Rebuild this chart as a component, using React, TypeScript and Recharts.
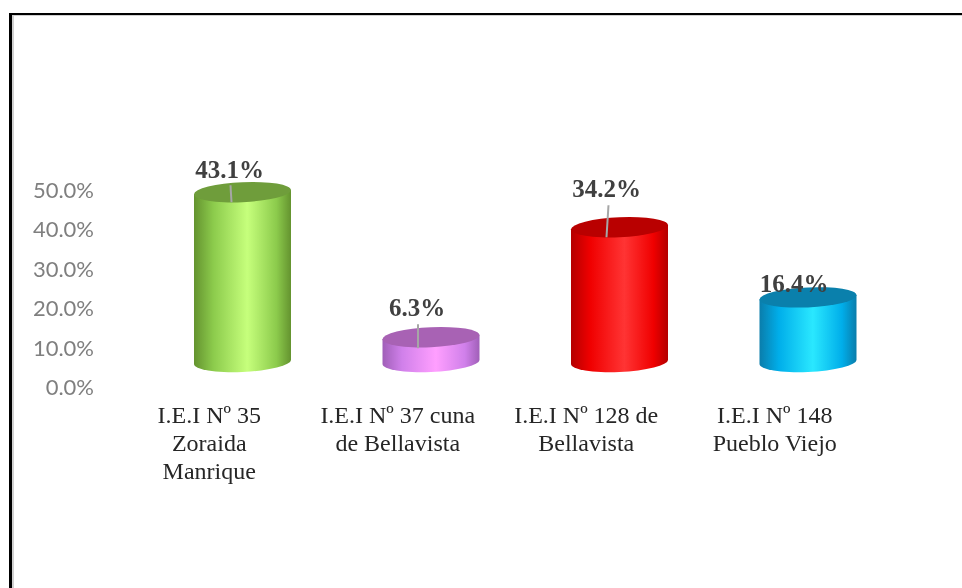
import { Bar, BarChart, Cell, LabelList, XAxis, YAxis } from "recharts";

const schools = [
  ["I.E.I Nº 35", "Zoraida", "Manrique"],
  ["I.E.I Nº 37 cuna", "de Bellavista"],
  ["I.E.I Nº 128 de", "Bellavista"],
  ["I.E.I Nº 148", "Pueblo Viejo"],
];
const percents = [43.1, 6.3, 34.2, 16.4];
const yTicks = [0, 10, 20, 30, 40, 50];

const data = schools.map((lines, i) => ({ name: lines.join(" "), value: percents[i] }));

// [edge, mid, highlight, cap]
const palette = [
  ["#64932f", "#8ccb4c", "#c6ff7c", "#6f9d3b"],
  ["#a05fb8", "#d080ea", "#ff9fff", "#a862b4"],
  ["#b40000", "#f00000", "#ff3434", "#b90000"],
  ["#0a7dab", "#00aeea", "#2ae8ff", "#0a80ac"],
];

// where the labels sit relative to the cylinder top, and whether a leader is drawn
const labelShift = [
  { dx: -13, dy: -22, leader: [[-12, -7], [-11, 10]] },
  { dx: -14, dy: -29, leader: [[-13, -13], [-13, 11]] },
  { dx: -13, dy: -38, leader: [[-11, -22], [-13, 10]] },
  { dx: -14, dy: -13, leader: null },
];

const RY = 10;

function Cylinder(props: any) {
  const { x, y, width, height, index } = props;
  const rx = width / 2;
  const cx = x + rx;
  return (
    <g transform={`translate(${cx},${y}) skewY(-2.5) translate(${-cx},${-y})`}>
      <path
        d={`M${x},${y} L${x},${y + height} A${rx},${RY} 0 0 0 ${x + width},${y + height} L${x + width},${y} Z`}
        fill={`url(#body${index})`}
      />
      <ellipse cx={cx} cy={y} rx={rx} ry={RY} fill={palette[index][3]} />
    </g>
  );
}

function PercentLabel(props: any) {
  const { x, y, width, index, value } = props;
  const s = labelShift[index];
  const cx = x + width / 2;
  return (
    <g>
      {s.leader && (
        <line
          x1={cx + s.leader[0][0]}
          y1={y + s.leader[0][1]}
          x2={cx + s.leader[1][0]}
          y2={y + s.leader[1][1]}
          stroke="#a6a6a6"
          strokeWidth={2}
        />
      )}
      <text
        x={cx + s.dx}
        y={y + s.dy + 8}
        textAnchor="middle"
        fontFamily="Liberation Serif"
        fontWeight="bold"
        fontSize={25}
        fill="#404040"
      >
        {`${value.toFixed(1)}%`}
      </text>
    </g>
  );
}

function SchoolTick(props: any) {
  const { x, index } = props;
  return (
    <text
      textAnchor="middle"
      fontFamily="Liberation Serif"
      fontSize={24}
      fill="#262626"
    >
      {schools[index].map((line, i) => (
        <tspan key={line} x={x - 33} y={423 + i * 28}>
          {line}
        </tspan>
      ))}
    </text>
  );
}

function PercentTick(props: any) {
  const { y, payload } = props;
  return (
    <text
      x={94}
      y={y + 33}
      textAnchor="end"
      fontFamily="Lato"
      fontSize={22}
      fill="#7f7f7f"
    >
      {`${payload.value.toFixed(1)}%`}
    </text>
  );
}

export default function App() {
  return (
    <div style={{ position: "absolute", left: 0, top: 0, width: 962, height: 588, overflow: "hidden", background: "#fff", filter: "blur(0.4px)" }}>
      <div style={{ position: "absolute", left: 9, top: 13, width: 953, height: 575, borderTop: "2px solid #000", borderLeft: "3px solid #000" }}>
        <div style={{ width: "100%", height: "100%", borderTop: "1px solid #d0d0d0", borderLeft: "2px solid #d0d0d0" }} />
      </div>
      <div style={{ position: "absolute", left: 0, top: 0 }}>
        <BarChart
          width={962}
          height={588}
          data={data}
          margin={{ top: 165, right: 60, bottom: 196, left: 88 }}
        >
          <defs>
            {palette.map((c, i) => (
              <linearGradient key={i} id={`body${i}`} x1="0" y1="0" x2="1" y2="0">
                <stop offset="0%" stopColor={c[0]} />
                <stop offset="20%" stopColor={c[1]} />
                <stop offset="55%" stopColor={c[2]} />
                <stop offset="85%" stopColor={c[1]} />
                <stop offset="100%" stopColor={c[0]} />
              </linearGradient>
            ))}
          </defs>
          <XAxis
            dataKey="name"
            axisLine={false}
            tickLine={false}
            interval={0}
            height={30}
            tick={<SchoolTick />}
          />
          <YAxis
            domain={[0, 50]}
            ticks={yTicks}
            width={60}
            axisLine={false}
            tickLine={false}
            tick={<PercentTick />}
          />
          <Bar dataKey="value" barSize={97} shape={<Cylinder />} isAnimationActive={false}>
            {data.map((d, i) => (
              <Cell key={d.name} fill={palette[i][1]} />
            ))}
            <LabelList dataKey="value" content={<PercentLabel />} />
          </Bar>
        </BarChart>
      </div>
    </div>
  );
}
